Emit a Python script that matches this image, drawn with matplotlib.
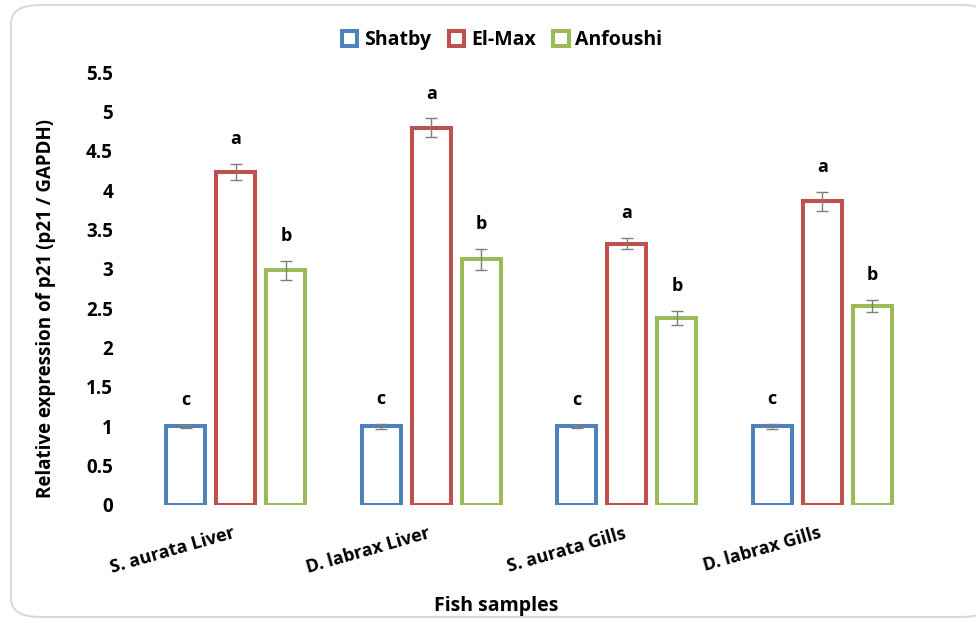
import matplotlib
matplotlib.use("Agg")
import matplotlib.pyplot as plt
import matplotlib.transforms as mtransforms
import numpy as np
from matplotlib.patches import Patch, FancyBboxPatch

plt.rcParams['font.family'] = ['Open Sans', 'DejaVu Sans']
plt.rcParams['font.weight'] = 'bold'

categories = ["S. aurata Liver", "D. labrax Liver", "S. aurata Gills", "D. labrax Gills"]
series = ["Shatby", "El-Max", "Anfoushi"]
shatby = [1.0, 1.0, 1.0, 1.0]
elmax = [4.23, 4.79, 3.32, 3.86]
anfoushi = [2.98, 3.12, 2.38, 2.53]
shatby_err = [0.02, 0.03, 0.02, 0.03]
elmax_err = [0.10, 0.12, 0.07, 0.12]
anfoushi_err = [0.12, 0.13, 0.09, 0.08]
letters = [["c", "c", "c", "c"], ["a", "a", "a", "a"], ["b", "b", "b", "b"]]
yticks = [0, 0.5, 1, 1.5, 2, 2.5, 3, 3.5, 4, 4.5, 5, 5.5]

colors = ["#4F81BD", "#C0504D", "#9BBB59"]
values = [shatby, elmax, anfoushi]
errors = [shatby_err, elmax_err, anfoushi_err]

fig = plt.figure(figsize=(9.76, 6.23), dpi=100)
W, H = 976, 623

# rounded frame around the chart area
frame = FancyBboxPatch((11 / W, 6 / H), 980 / W, 612 / H,
                       boxstyle="round,pad=0,rounding_size=0.03",
                       transform=fig.transFigure, facecolor="white",
                       edgecolor="#d9d9d9", linewidth=1.5, zorder=-10)
fig.patches.append(frame)

ax = fig.add_axes([138 / W, (H - 505) / H, (920 - 138) / W, (505 - 72) / H])
ax.set_facecolor("none")

x = np.arange(len(categories))
width = 0.2
step = 0.256
for i, (vals, errs, col) in enumerate(zip(values, errors, colors)):
    pos = x + (i - 1) * step
    ax.bar(pos, vals, width=width, facecolor="white", edgecolor=col,
           linewidth=2.9, label=series[i], zorder=2)
    ax.errorbar(pos, vals, yerr=errs, fmt="none", ecolor="#7f7f7f",
                elinewidth=1, capsize=4.5, capthick=1, zorder=3)
    for p, v, e, lt in zip(pos, vals, errs, letters[i]):
        ax.text(p, v + e + 0.2, lt, ha="center", va="bottom",
                fontsize=13, fontweight="bold")

ax.set_xlim(-0.5, len(categories) - 0.5)
ax.set_ylim(0, 5.5)
ax.set_yticks(yticks)
ax.set_yticklabels([f"{t:g}" for t in yticks], fontsize=13.5, fontweight="bold")
ax.set_xticks(x)
ax.set_xticklabels(categories, rotation=16, ha="right", va="top",
                   rotation_mode="anchor", fontsize=13, fontweight="bold")
ax.tick_params(axis="y", length=0, pad=18)
ax.tick_params(axis="x", length=0, pad=14)
shift = mtransforms.ScaledTranslation(-4 / 100, 0, fig.dpi_scale_trans)
for lbl in ax.get_xticklabels():
    lbl.set_transform(lbl.get_transform() + shift)
for s in ax.spines.values():
    s.set_visible(False)

ax.set_ylabel("Relative expression of p21 (p21 / GAPDH)", fontsize=13.5,
              fontweight="bold")
ax.yaxis.set_label_coords((56 - 138) / (920 - 138), (505 - 308) / (505 - 72))
fig.text(496 / W, 1 - 606 / H, "Fish samples", ha="center", va="center",
         fontsize=14, fontweight="bold")

handles = [Patch(facecolor="white", edgecolor=c, linewidth=2.9) for c in colors]
fig.legend(handles, series, loc="center", bbox_to_anchor=(502 / W, 1 - 40 / H),
           ncol=3, frameon=False, handlelength=0.8, handleheight=0.8,
           handletextpad=0.35, columnspacing=0.9, prop={"weight": "bold", "size": 14})

fig.savefig("out.png", dpi=100)
